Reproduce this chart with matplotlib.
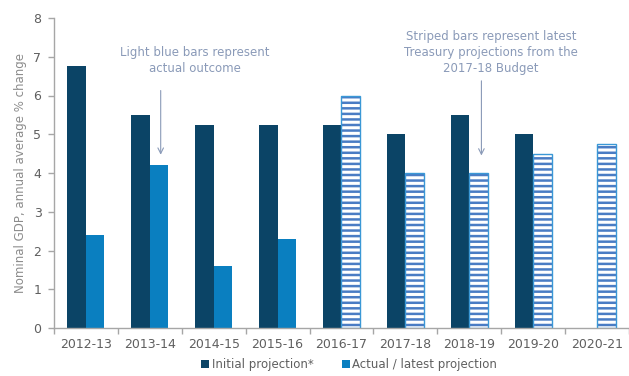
import numpy as np
import matplotlib
matplotlib.use("Agg")
import matplotlib.pyplot as plt
from matplotlib.patches import Patch

categories = ["2012-13", "2013-14", "2014-15", "2015-16", "2016-17",
              "2017-18", "2018-19", "2019-20", "2020-21"]
initial = [6.75, 5.5, 5.25, 5.25, 5.25, 5.0, 5.5, 5.0, np.nan]
actual = [2.4, 4.2, 1.6, 2.3, 6.0, 4.0, 4.0, 4.5, 4.75]
striped = [False, False, False, False, True, True, True, True, True]

DARK = "#0b4466"
LIGHT = "#0a7fc0"
STRIPE = "#4a7cc4"
EDGE = "#3a98d6"
GRAY = "#5f5f5f"
NOTE = "#8a9ab8"

plt.rcParams["font.family"] = "DejaVu Sans"
plt.rcParams["hatch.linewidth"] = 1.8

fig = plt.figure(figsize=(6.29, 3.76), dpi=100)
ax = fig.add_axes([54/629, 1-328/376, 1-54/629, (328-18)/376])

x = np.arange(len(categories))
w = 0.29
ax.bar(x - w/2, initial, w, color=DARK, linewidth=0)
for xi, v, s in zip(x, actual, striped):
    if s:
        ax.bar(xi + w/2, v, w, facecolor="white", edgecolor=STRIPE, hatch="---", linewidth=0)
        ax.bar(xi + w/2, v, w, facecolor="none", edgecolor=EDGE, linewidth=1.0)
    else:
        ax.bar(xi + w/2, v, w, color=LIGHT, linewidth=0)

ax.set_xlim(-0.5, 8.5)
ax.set_ylim(0, 8)
ax.set_yticks(range(0, 9))
ax.set_xticks(x)
ax.set_xticklabels(categories)
ax.set_xticks(np.arange(-0.5, 9.0, 1.0), minor=True)
ax.tick_params(axis="x", which="major", length=0, pad=7, labelsize=9, labelcolor=GRAY)
ax.tick_params(axis="x", which="minor", length=4, color="#a6a6a6", width=1)
ax.tick_params(axis="y", length=4, color="#a6a6a6", width=1, labelsize=9, labelcolor=GRAY, pad=5)
for s in ["top", "right"]:
    ax.spines[s].set_visible(False)
ax.spines["left"].set_color("#a6a6a6")
ax.spines["bottom"].set_color("#a6a6a6")
ax.spines["left"].set_linewidth(1)
ax.spines["bottom"].set_linewidth(1)
ax.set_ylabel("Nominal GDP, annual average % change", fontsize=8.5, color="#8c8c8c", labelpad=5)

ax.annotate("", xy=(1.17, 4.4), xytext=(1.17, 6.2),
            arrowprops=dict(arrowstyle="->", color=NOTE, lw=0.8))
ax.text(1.7, 6.9, "Light blue bars represent\nactual outcome", ha="center", va="center",
        fontsize=8.5, color=NOTE, linespacing=1.3)

ax.annotate("", xy=(6.19, 4.38), xytext=(6.19, 6.45),
            arrowprops=dict(arrowstyle="->", color=NOTE, lw=0.8))
ax.text(6.34, 7.12, "Striped bars represent latest\nTreasury projections from the\n2017-18 Budget",
        ha="center", va="center", fontsize=8.5, color=NOTE, linespacing=1.3)

handles = [Patch(facecolor=DARK, label="Initial projection*"),
           Patch(facecolor=LIGHT, label="Actual / latest projection")]
fig.legend(handles=handles, loc="lower center", bbox_to_anchor=(0.555, -0.015), ncol=2,
           frameon=False, fontsize=8.5, labelcolor=GRAY, handlelength=0.7, handleheight=0.7,
           handletextpad=0.2, columnspacing=2.4)

fig.savefig("out.png", dpi=100)
